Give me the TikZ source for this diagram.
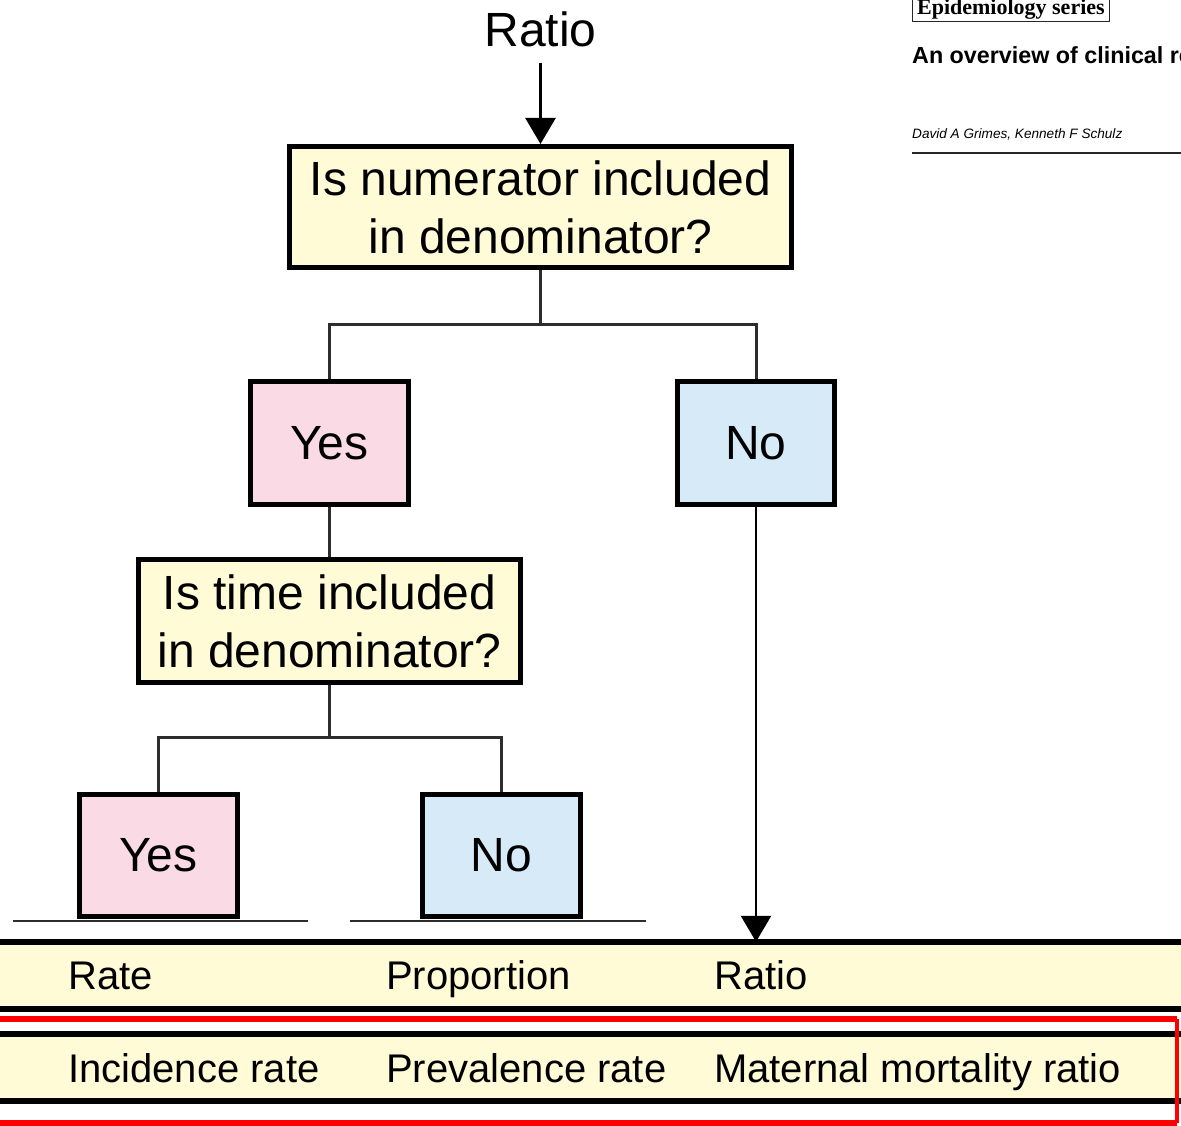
\documentclass[tikz,border=0pt]{standalone}
\usepackage{fontspec}
\setmainfont{Liberation Sans}
\newfontfamily\serifhead{Liberation Serif}
\usetikzlibrary{arrows.meta}
\definecolor{qyellow}{RGB}{255,251,215}
\definecolor{yespink}{RGB}{250,218,228}
\definecolor{noblue}{RGB}{214,234,248}
\definecolor{linegray}{RGB}{45,45,45}
\definecolor{markred}{RGB}{255,0,0}
\begin{document}
\begin{tikzpicture}[x=1pt,y=-1pt,
  box/.style={draw=black,line width=5pt,align=center,inner sep=0pt,
    font=\fontsize{48}{58}\selectfont},
  qbox/.style={box,fill=qyellow},
  yesbox/.style={box,fill=yespink,minimum width=158pt,minimum height=123pt},
  nobox/.style={box,fill=noblue,minimum width=157pt,minimum height=123pt},
  conn/.style={draw=linegray,line width=3pt},
  arr/.style={draw=black,line width=2.5pt,-{Triangle[width=30pt,length=26pt]}},
  ground/.style={draw=linegray,line width=2.5pt},
  band/.style={fill=qyellow,draw=none,inner sep=0pt,minimum width=1201pt,minimum height=67pt},
  bandline/.style={draw=black,line width=6pt},
  bandtext/.style={inner sep=0pt,anchor=base west,font=\fontsize{40}{48}\selectfont},
  titletext/.style={inner sep=0pt,anchor=base,font=\fontsize{48}{58}\selectfont},
  redmark/.style={draw=markred,line width=6pt},
]
\useasboundingbox (0,0) rectangle (1181,1126);
\clip (0,0) rectangle (1181,1126);

% header (top right)
\node[draw=black!85,line width=1.2pt,inner xsep=4.5pt,inner ysep=2pt,anchor=base west,
  font=\serifhead\bfseries\fontsize{22}{26}\selectfont] (series) at (912,15) {Epidemiology series};
\node[inner sep=0pt,anchor=base west,font=\bfseries\fontsize{23.3}{28}\selectfont] (headline)
  at (912,64) {An overview of clinical research};
\node[inner sep=0pt,anchor=base west,font=\itshape\fontsize{13.6}{16}\selectfont] (authors)
  at (912,139) {David A Grimes, Kenneth F Schulz};
\coordinate (ruleL) at (912,153);
\coordinate (ruleR) at (1185,153);
\draw[line width=2pt,draw=black!85] (ruleL) -- (ruleR);

% tree
\node[titletext] (title) at (540.5,47) {Ratio};
\node[qbox,minimum width=502pt,minimum height=121pt] (box1) at (540.5,207)
  {Is numerator included\\in denominator?};
\node[yesbox] (yes1) at (329.5,443) {Yes};
\node[nobox] (no1) at (756,443) {No};
\node[qbox,minimum width=382pt,minimum height=123pt] (box2) at (329.5,621)
  {Is time included\\in denominator?};
\node[yesbox,minimum height=122pt] (yes2) at (158.5,855.5) {Yes};
\node[nobox,minimum width=158pt,minimum height=122pt] (no2) at (501.5,855.5) {No};

% bands
\node[band] (band1) at (590.5,975.5) {};
\node[band] (band2) at (590.5,1067.5) {};
\draw[bandline] (band1.north west) -- (band1.north east);
\draw[bandline] (band1.south west) -- (band1.south east);
\draw[bandline] (band2.north west) -- (band2.north east);
\draw[bandline] (band2.south west) -- (band2.south east);

\node[bandtext] (rate) at (68,989) {Rate};
\node[bandtext] (prop) at (386,989) {Proportion};
\node[bandtext] (ratio) at (714,989) {Ratio};
\node[bandtext] (inc) at (68,1082) {Incidence rate};
\node[bandtext] (prev) at (386,1082) {Prevalence rate};
\node[bandtext] (mmr) at (714,1082) {Maternal mortality ratio};

% connectors
\coordinate (j1) at (540.5,324);
\coordinate (j2) at (329.5,737);
\draw[arr] (title.south) ++(0,15) -- (box1.north);
\draw[conn] (box1.south) -- (j1);
\draw[conn] (j1) -| (yes1.north);
\draw[conn] (j1) -| (no1.north);
\draw[conn] (yes1.south) -- (box2.north);
\draw[conn] (box2.south) -- (j2);
\draw[conn] (j2) -| (yes2.north);
\draw[conn] (j2) -| (no2.north);
\draw[arr] (no1.south) -- (no1.south |- band1.north);

% ground lines under the last boxes
\coordinate (g1a) at (13,921);
\coordinate (g1b) at (308,921);
\coordinate (g2a) at (350,921);
\coordinate (g2b) at (646,921);
\draw[ground] (g1a) -- (g1b);
\draw[ground] (g2a) -- (g2b);
\node[yesbox,minimum height=122pt] at (yes2) {Yes};
\node[nobox,minimum width=158pt,minimum height=122pt] at (no2) {No};

% red highlight frame
\coordinate (rTL) at (-10,1019);
\coordinate (rTR) at (1177,1019);
\coordinate (rBR) at (1177,1123);
\coordinate (rBL) at (-10,1123);
\draw[redmark] (rTL) -- (rTR);
\draw[redmark] (rBL) -- (rBR);
\draw[draw=markred,line width=4pt] (rTR) -- (rBR);
\end{tikzpicture}
\end{document}
